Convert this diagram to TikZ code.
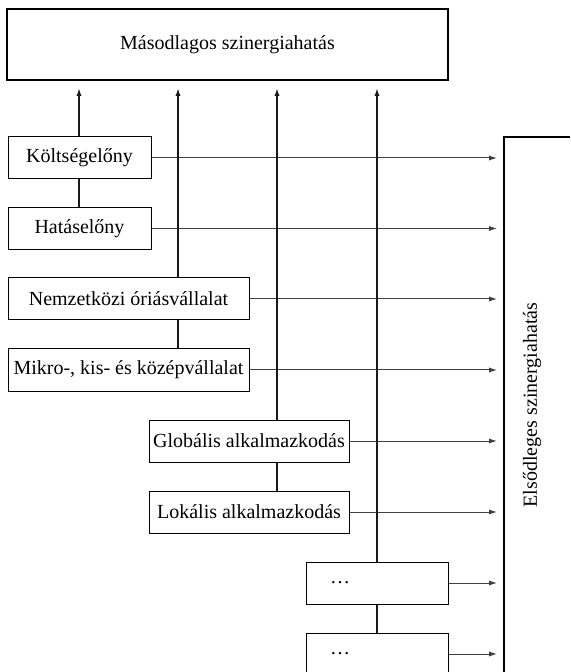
\documentclass[tikz,border=0pt]{standalone}
\usepackage{fontspec}
\setmainfont{Liberation Serif}
\usetikzlibrary{arrows.meta}

\begin{document}
\begin{tikzpicture}[x=0.5pt,y=-0.5pt]
\tikzstyle{every node}=[font=\fontsize{10}{12}\selectfont, inner sep=1pt]
\tikzstyle{box}=[draw, line width=0.5pt, minimum height=21pt]
\tikzstyle{vline}=[line width=0.8pt, black!90]
\tikzstyle{hline}=[line width=0.5pt, black!75, -{Latex[length=4pt,width=2.6pt]}]
\useasboundingbox (0,0) rectangle (570,672);
% secondary synergy box
\draw (227.5,44.5) node (sec) [draw, line width=1pt, minimum width=220.5pt, minimum height=35.5pt] {Másodlagos szinergiahatás};
% columns
\coordinate (c1) at (79,88);
\coordinate (c2) at (178,88);
\coordinate (c3) at (277,88);
\coordinate (c4) at (377,88);
\coordinate (br) at (504,137);
\coordinate (tip) at (497,137);
% boxes
\draw (79.5,158) node (k1) [box, minimum width=71.5pt] {Költségelőny};
\draw (79.5,228.5) node (k2) [box, minimum width=71.5pt] {Hatáselőny};
\draw (128.5,299) node (n1) [box, minimum width=120.5pt] {Nemzetközi óriásvállalat};
\draw (128.5,370) node (n2) [box, minimum width=120.5pt] {Mikro-, kis- és középvállalat};
\draw (249,441) node (g1) [box, minimum width=100pt] {Globális alkalmazkodás};
\draw (249,512) node (g2) [box, minimum width=100pt] {Lokális alkalmazkodás};
\draw (377,583) node (d1) [box, minimum width=71pt] {\ldots\rule{37pt}{0pt}};
\draw (377,654) node (d2) [box, minimum width=71pt] {\ldots\rule{37pt}{0pt}};
% right side
\draw[line width=0.6pt] (570,137) -- (br) -- (504,672);
\draw (532,405) node (prim) [rotate=90] {Elsődleges szinergiahatás};
% arrows to the right
\draw[hline] (k1.east) -- (k1.east -| tip);
\draw[hline] (k2.east) -- (k2.east -| tip);
\draw[hline] (n1.east) -- (n1.east -| tip);
\draw[hline] (n2.east) -- (n2.east -| tip);
\draw[hline] (g1.east) -- (g1.east -| tip);
\draw[hline] (g2.east) -- (g2.east -| tip);
\draw[hline] (d1.east) -- (d1.east -| tip);
\draw[hline] (d2.east) -- (d2.east -| tip);
% arrows up
\draw[vline, -{Latex[length=4pt,width=2.6pt]}] (k1.north -| c1) -- (c1);
\draw[vline] (k1.south -| c1) -- (k2.north -| c1);
\draw[vline, -{Latex[length=4pt,width=2.6pt]}] (n1.north -| c2) -- (c2);
\draw[vline] (n1.south -| c2) -- (n2.north -| c2);
\draw[vline, line width=1pt, -{Latex[length=4pt,width=2.6pt]}] (g1.north -| c3) -- (c3);
\draw[vline, line width=1pt] (g1.south -| c3) -- (g2.north -| c3);
\draw[vline, line width=1pt, -{Latex[length=4pt,width=2.6pt]}] (d1.north -| c4) -- (c4);
\draw[vline, line width=1pt] (d1.south -| c4) -- (d2.north -| c4);
\end{tikzpicture}
\end{document}
